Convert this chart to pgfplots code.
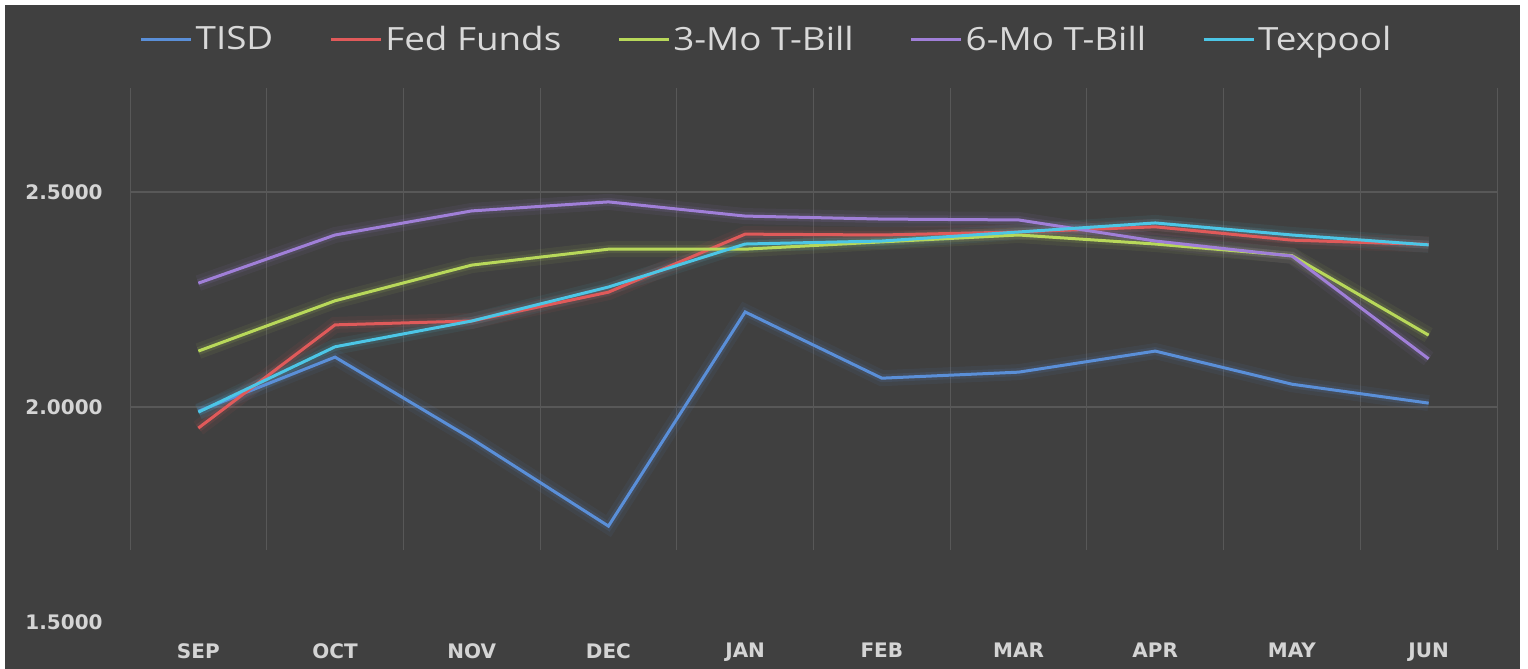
\documentclass[border=0pt]{standalone}
\usepackage{pgfplots}
\pgfplotsset{compat=1.18}
\usepackage{pgfplotstable}
\usepackage{fontspec}
\setmainfont{DejaVu Sans}
\newfontfamily\legfont[FakeStretch=1.15]{Open Sans}
\definecolor{bg}{HTML}{404040}
\definecolor{gridc}{HTML}{585858}
\definecolor{tickc}{HTML}{D4D4D4}
\definecolor{legc}{HTML}{D9D9D9}
\definecolor{cTISD}{HTML}{5A8FD8}
\definecolor{cFed}{HTML}{E05A5A}
\definecolor{cThree}{HTML}{B8D85A}
\definecolor{cSix}{HTML}{A07FD8}
\definecolor{cTex}{HTML}{4CC6E6}

\pgfplotstableread{
x y
0 1.990
1 2.116
2 1.926
3 1.723
4 2.221
5 2.067
6 2.081
7 2.130
8 2.053
9 2.009
}\tisd
\pgfplotstableread{
x y
0 1.951
1 2.191
2 2.200
3 2.267
4 2.402
5 2.400
6 2.407
7 2.419
8 2.388
9 2.378
}\fed
\pgfplotstableread{
x y
0 2.130
1 2.247
2 2.330
3 2.367
4 2.367
5 2.384
6 2.400
7 2.379
8 2.352
9 2.167
}\three
\pgfplotstableread{
x y
0 2.288
1 2.400
2 2.456
3 2.477
4 2.444
5 2.437
6 2.435
7 2.386
8 2.351
9 2.112
}\six
\pgfplotstableread{
x y
0 1.988
1 2.140
2 2.200
3 2.279
4 2.379
5 2.386
6 2.407
7 2.428
8 2.400
9 2.377
}\texpool

\begin{document}
\begin{tikzpicture}
\fill[white] (0pt,0pt) rectangle (764pt,334.5pt);
\fill[bg] (2.5pt,0pt) rectangle (760pt,332pt);
\begin{axis}[
  at={(65pt,23.5pt)}, anchor=south west,
  scale only axis, width=683.5pt, height=268.75pt,
  xmin=-0.5, xmax=9.5, ymin=1.5, ymax=2.75,
  xtick={0,...,9},
  xticklabels={SEP,OCT,NOV,DEC,JAN,FEB,MAR,APR,MAY,JUN},
  ytick={1.5,2,2.5},
  yticklabels={1.5000,2.0000,2.5000},
  axis line style={draw=none},
  major tick length=0pt,
  tick label style={font=\fontsize{10}{12}\selectfont\bfseries, text=tickc, inner sep=0pt},
  yticklabel style={anchor=east, xshift=-13.5pt},
  xticklabel style={anchor=north, yshift=-10.5pt},
  clip=false,
  legend columns=-1,
  legend image code/.code={\draw[#1, line width=1.5pt] (0pt,0pt) -- (25pt,0pt);},
  legend style={at={(0.466,1.083)}, anchor=center, draw=none, fill=none,
    font=\legfont\fontsize{16}{19}\selectfont, text=legc,
    nodes={inner sep=1.5pt},
    /tikz/every even column/.append style={column sep=26.5pt}},
]
\pgfplotsinvokeforeach{-0.5,0.5,1.5,2.5,3.5,4.5,5.5,6.5,7.5,8.5,9.5}{
  \draw[gridc, line width=0.5pt] (axis cs:#1,1.667) -- (axis cs:#1,2.743);
}
\draw[gridc, line width=0.6pt] (axis cs:-0.5,2) -- (axis cs:9.5,2);
\draw[gridc, line width=0.6pt] (axis cs:-0.5,2.5) -- (axis cs:9.5,2.5);

\addplot[forget plot, cTISD, line width=8pt, opacity=0.07] table {\tisd};
\addplot[forget plot, cFed, line width=8pt, opacity=0.07] table {\fed};
\addplot[forget plot, cThree, line width=8pt, opacity=0.07] table {\three};
\addplot[forget plot, cSix, line width=8pt, opacity=0.07] table {\six};
\addplot[forget plot, cTex, line width=8pt, opacity=0.07] table {\texpool};
\addplot[forget plot, cTISD, line width=4pt, opacity=0.12] table {\tisd};
\addplot[forget plot, cFed, line width=4pt, opacity=0.12] table {\fed};
\addplot[forget plot, cThree, line width=4pt, opacity=0.12] table {\three};
\addplot[forget plot, cSix, line width=4pt, opacity=0.12] table {\six};
\addplot[forget plot, cTex, line width=4pt, opacity=0.12] table {\texpool};

\addplot[cTISD, line width=1.5pt] table {\tisd};
\addlegendentry{TISD}
\addplot[cFed, line width=1.5pt] table {\fed};
\addlegendentry{Fed Funds}
\addplot[cThree, line width=1.5pt] table {\three};
\addlegendentry{3-Mo T-Bill}
\addplot[cSix, line width=1.5pt] table {\six};
\addlegendentry{6-Mo T-Bill}
\addplot[cTex, line width=1.5pt] table {\texpool};
\addlegendentry{Texpool}
\end{axis}
\end{tikzpicture}
\end{document}
